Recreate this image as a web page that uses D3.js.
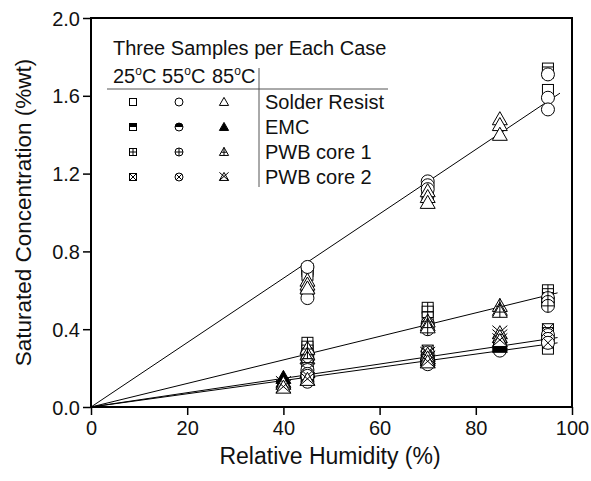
<!DOCTYPE html>
<html>
<head>
<meta charset="utf-8">
<script src="https://cdn.jsdelivr.net/npm/d3@7"></script>
<style>
body { margin:0; background:#fff; }
text { font-family: "Liberation Sans", Arial, sans-serif; fill:#111; }
</style>
</head>
<body>
<svg id="chart"></svg>
<script>
// materials / temperatures
var materials = ["Solder Resist","EMC","PWB core 1","PWB core 2"];
var temps = ["25","55","85"];
var shapes = ["square","circle","triangle"];
var styles = ["open","half","plus","cross"];

// fitted slopes (%wt per %RH), lines through origin
var slopes = [0.01655, 0.00340, 0.00605, 0.00368];
var lineEnd = [97.5, 97, 97, 97];

// [RH, concentration] per material per temperature
var solder25 = [[45,0.71],[45,0.70],[45,0.68],[70,1.12],[70,1.10],[70,1.08],[95,1.74],[95,1.72],[95,1.63]];
var solder55 = [[45,0.72],[45,0.59],[45,0.56],[70,1.16],[70,1.14],[70,1.12],[95,1.71],[95,1.59],[95,1.53]];
var solder85 = [[45,0.65],[45,0.63],[45,0.61],[70,1.11],[70,1.08],[70,1.05],[85,1.48],[85,1.45],[85,1.40]];

var emc25 = [[45,0.17],[45,0.15],[45,0.14],[70,0.26],[70,0.24],[70,0.23],[95,0.34],[95,0.32],[95,0.30]];
var emc55 = [[45,0.16],[45,0.15],[45,0.13],[70,0.25],[70,0.24],[70,0.22],[85,0.33],[85,0.31],[85,0.29]];
var emc85 = [[40,0.15],[40,0.13],[45,0.18],[70,0.26],[70,0.25],[70,0.24],[85,0.33],[85,0.32],[85,0.31]];

var core1_25 = [[45,0.33],[45,0.31],[45,0.29],[70,0.51],[70,0.49],[70,0.46],[95,0.60],[95,0.58],[95,0.56]];
var core1_55 = [[45,0.28],[45,0.27],[45,0.25],[70,0.43],[70,0.42],[70,0.40],[95,0.56],[95,0.54],[95,0.52]];
var core1_85 = [[45,0.30],[45,0.27],[45,0.25],[70,0.44],[70,0.42],[70,0.41],[85,0.52],[85,0.50],[85,0.49]];

var core2_25 = [[45,0.22],[45,0.20],[45,0.18],[70,0.29],[70,0.27],[70,0.26],[95,0.40],[95,0.38],[95,0.36]];
var core2_55 = [[45,0.19],[45,0.17],[45,0.16],[70,0.28],[70,0.26],[70,0.25],[95,0.37],[95,0.35],[95,0.33]];
var core2_85 = [[40,0.12],[40,0.10],[45,0.14],[70,0.27],[70,0.25],[70,0.23],[85,0.38],[85,0.36],[85,0.34]];

var series = [
  [solder25, solder55, solder85],
  [emc25, emc55, emc85],
  [core1_25, core1_55, core1_85],
  [core2_25, core2_55, core2_85]
];

var xTicks = [0,20,40,60,80,100];
var yTicks = [0.0,0.4,0.8,1.2,1.6,2.0];

var screen = {width:591,height:481};
var plot = {left:91,right:572,top:18,bottom:407};

var svg = d3.select("#chart")
    .attr("width",screen.width)
    .attr("height",screen.height);

var x = d3.scaleLinear().domain([0,100]).range([plot.left,plot.right]);
var y = d3.scaleLinear().domain([0,2]).range([plot.bottom,plot.top]);

// draws one marker centred at (0,0) inside group g
var drawMarker = function(g, shape, style, s)
{
    var h = s/2;
    var sw = 1;
    if(shape=="square")
    {
        g.append("rect").attr("x",-h).attr("y",-h).attr("width",s).attr("height",s)
            .attr("fill","#fff").attr("stroke","#000").attr("stroke-width",sw);
        if(style=="half")
            g.append("rect").attr("x",-h).attr("y",-h).attr("width",s).attr("height",h)
                .attr("fill","#000");
        if(style=="plus")
            g.append("path").attr("d","M0,"+(-h)+"V"+h+"M"+(-h)+",0H"+h)
                .attr("stroke","#000").attr("stroke-width",sw);
        if(style=="cross")
            g.append("path").attr("d","M"+(-h)+","+(-h)+"L"+h+","+h+"M"+h+","+(-h)+"L"+(-h)+","+h)
                .attr("stroke","#000").attr("stroke-width",sw);
    }
    else if(shape=="circle")
    {
        g.append("circle").attr("r",h).attr("fill","#fff")
            .attr("stroke","#000").attr("stroke-width",sw);
        if(style=="half")
            g.append("path").attr("d","M"+(-h)+",0A"+h+","+h+" 0 0 1 "+h+",0Z").attr("fill","#000");
        if(style=="plus")
            g.append("path").attr("d","M0,"+(-h)+"V"+h+"M"+(-h)+",0H"+h)
                .attr("stroke","#000").attr("stroke-width",sw);
        if(style=="cross")
        {
            var c = h*0.707;
            g.append("path").attr("d","M"+(-c)+","+(-c)+"L"+c+","+c+"M"+c+","+(-c)+"L"+(-c)+","+c)
                .attr("stroke","#000").attr("stroke-width",sw);
        }
    }
    else
    {
        var t = h*1.15;
        var tri = "M0,"+(-t)+"L"+t+","+(t*0.75)+"L"+(-t)+","+(t*0.75)+"Z";
        g.append("path").attr("d",tri)
            .attr("fill",style=="half"?"#000":"#fff")
            .attr("stroke","#000").attr("stroke-width",sw);
        if(style=="plus")
            g.append("path").attr("d","M0,"+(-t)+"V"+(t*0.75)+"M"+(-t*0.6)+","+(t*0.05)+"H"+(t*0.6))
                .attr("stroke","#000").attr("stroke-width",sw);
        if(style=="cross")
            g.append("path").attr("d","M"+(-t)+","+(-t)+"L"+t+","+(t*0.75)+"M"+t+","+(-t)+"L"+(-t)+","+(t*0.75))
                .attr("stroke","#000").attr("stroke-width",sw);
    }
}

// fit lines
var lines = svg.append("g");
slopes.forEach(function(m,i)
{
    lines.append("line")
        .attr("x1",x(0)).attr("y1",y(0))
        .attr("x2",x(lineEnd[i])).attr("y2",y(m*lineEnd[i]))
        .attr("stroke","#000").attr("stroke-width",1);
});

// data markers
var plotSize = [11,13,13];
var pts = svg.append("g");
series.forEach(function(mat,mi)
{
    mat.forEach(function(list,ti)
    {
        list.forEach(function(p)
        {
            var g = pts.append("g")
                .attr("transform","translate("+x(p[0])+","+y(p[1])+")");
            drawMarker(g, shapes[ti], styles[mi], plotSize[ti]);
        });
    });
});

// axes
var xAxis = svg.append("g").attr("transform","translate(0,"+plot.bottom+")");
xAxis.call(d3.axisBottom(x).tickValues(d3.range(0,101,10)).tickSize(5).tickFormat(""));
xAxis.call(d3.axisBottom(x).tickValues(xTicks).tickSize(8).tickFormat(d3.format("d")));
xAxis.selectAll("text").attr("font-size",20).attr("dy","0.85em");

var yAxis = svg.append("g").attr("transform","translate("+plot.left+",0)");
yAxis.call(d3.axisLeft(y).tickValues(d3.range(0,2.01,0.2)).tickSize(5).tickFormat(""));
yAxis.call(d3.axisLeft(y).tickValues(yTicks).tickSize(8).tickFormat(d3.format(".1f")));
yAxis.selectAll("text").attr("font-size",20).attr("dy","0.35em");

svg.selectAll(".domain").remove();
svg.selectAll(".tick line").attr("stroke","#000").attr("stroke-width",1.5);

svg.append("rect")
    .attr("x",plot.left).attr("y",plot.top)
    .attr("width",plot.right-plot.left).attr("height",plot.bottom-plot.top)
    .attr("fill","none").attr("stroke","#000").attr("stroke-width",2);

// axis titles
svg.append("text")
    .attr("x",330).attr("y",464)
    .attr("text-anchor","middle").attr("font-size",23)
    .text("Relative Humidity (%)");

svg.append("text")
    .attr("transform","translate(31,"+(plot.top+plot.bottom)/2+") rotate(-90)")
    .attr("text-anchor","middle").attr("font-size",22.5)
    .text("Saturated Concentration (%wt)");

// legend
var leg = svg.append("g");
leg.append("text").attr("x",113).attr("y",55).attr("font-size",20)
    .text("Three Samples per Each Case");

var tempX = [113,162,212];
temps.forEach(function(t,i)
{
    var tx = leg.append("text").attr("x",tempX[i]).attr("y",83).attr("font-size",20);
    tx.append("tspan").text(t);
    tx.append("tspan").attr("font-size",12).attr("dy",-8).text("o");
    tx.append("tspan").attr("dy",8).text("C");
});

leg.append("line").attr("x1",107).attr("x2",388).attr("y1",89).attr("y2",89)
    .attr("stroke","#555").attr("stroke-width",1);
leg.append("line").attr("x1",259).attr("x2",259).attr("y1",68).attr("y2",187)
    .attr("stroke","#555").attr("stroke-width",1);

var colX = [133,179,224];
var legSize = [7,8,8];
materials.forEach(function(name,mi)
{
    var ry = 102 + mi*25;
    shapes.forEach(function(sh,ti)
    {
        var g = leg.append("g").attr("transform","translate("+colX[ti]+","+ry+")");
        drawMarker(g, sh, styles[mi], legSize[ti]);
    });
    leg.append("text").attr("x",265).attr("y",ry+7).attr("font-size",20).text(name);
});
</script>
</body>
</html>
